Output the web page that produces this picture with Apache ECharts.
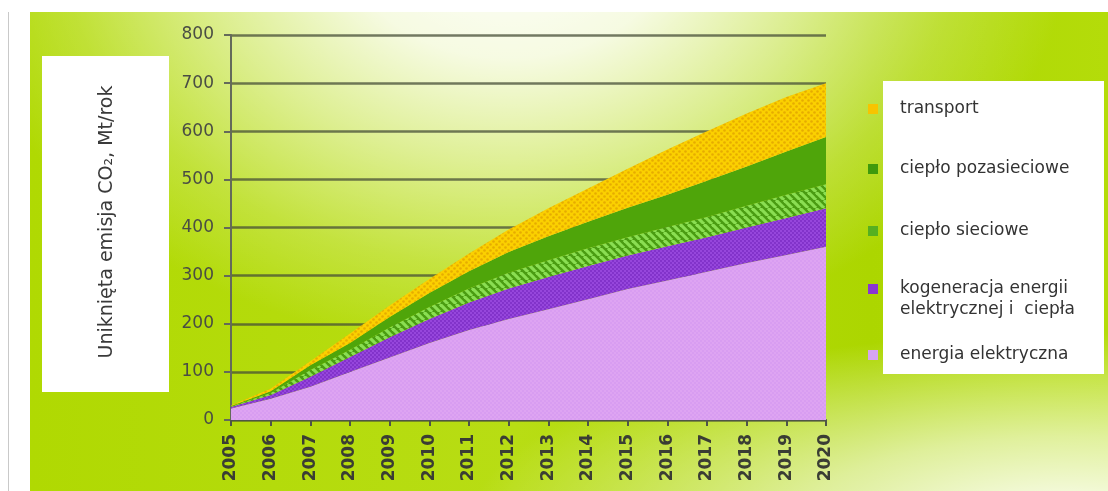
<!DOCTYPE html>
<html>
<head>
<meta charset="utf-8">
<script src="https://cdn.jsdelivr.net/npm/echarts/dist/echarts.min.js"></script>
<style>
  html, body { margin: 0; padding: 0; background: #ffffff; }
  #wrap { position: relative; width: 1108px; height: 491px; overflow: hidden; background: #ffffff; }
  #edge { position: absolute; left: 8px; top: 12px; width: 1px; height: 479px; background: #c9c9c9; }
  #panel {
    position: absolute; left: 30px; top: 12px; width: 1078px; height: 479px;
    background:
      radial-gradient(ellipse 560px 420px at 480px -80px, rgba(255,255,255,1) 0%, rgba(255,255,255,0.88) 30%, rgba(255,255,255,0.55) 55%, rgba(255,255,255,0.2) 80%, rgba(255,255,255,0) 100%),
      radial-gradient(ellipse 600px 190px at 1040px 510px, rgba(255,255,255,0.97) 0%, rgba(255,255,255,0.6) 45%, rgba(255,255,255,0) 100%),
      linear-gradient(90deg, #b0d902 0%, #b8dd14 45%, #acd600 78%, #b4dc0a 100%);
  }
  #chart { position: absolute; left: 0; top: 0; width: 1108px; height: 491px; }
</style>
</head>
<body>
<div id="wrap">
  <div id="edge"></div>
  <div id="panel"></div>
  <div id="chart"></div>
</div>
<script>
// Lata na osi X
const years = ['2005', '2006', '2007', '2008', '2009', '2010', '2011', '2012',
               '2013', '2014', '2015', '2016', '2017', '2018', '2019', '2020'];

// Uniknięta emisja CO2 w Mt/rok, wartości dla poszczególnych sektorów (warstwy sumowane)
const energiaElektryczna = [24, 44, 69, 100, 130, 160, 187, 210, 230, 251, 272, 290, 308, 326, 343, 360];
const kogeneracja        = [3, 8, 21, 31, 42, 50, 57, 63, 67, 69, 70, 71, 72, 74, 77, 80];
const cieploSieciowe     = [1, 4, 14, 15, 20, 25, 29, 33, 35, 37, 38, 40, 42, 45, 48, 50];
const cieploPozasieciowe = [1, 4, 10, 14, 22, 29, 36, 43, 50, 55, 61, 67, 75, 82, 90, 98];
const transport          = [1, 5, 8, 20, 24, 29, 37, 47, 58, 69, 81, 94, 103, 110, 113, 112];

const yTicks = { min: 0, max: 800, step: 100 };

const names = {
  ee: 'energia elektryczna',
  kog: 'kogeneracja energii elektrycznej i ciepła',
  cs: 'ciepło sieciowe',
  cp: 'ciepło pozasieciowe',
  tr: 'transport'
};

// Tekstury wypełnień warstw
function pattern(size, draw) {
  const c = document.createElement('canvas');
  c.width = size; c.height = size;
  draw(c.getContext('2d'), size);
  return { image: c, repeat: 'repeat' };
}
function dots(base, dot, size, r) {
  return pattern(size, (g, s) => {
    g.fillStyle = base; g.fillRect(0, 0, s, s);
    g.fillStyle = dot;
    const pts = [[s / 4, s / 4], [3 * s / 4, 3 * s / 4]];
    pts.forEach(p => { g.beginPath(); g.arc(p[0], p[1], r, 0, Math.PI * 2); g.fill(); });
  });
}
const fillTransport = dots('#fbd000', '#e6ac00', 6, 1.3);
const fillKog = dots('#9646dc', '#7a2ac2', 4, 0.9);
const fillEE = dots('#dea4f2', '#d194ee', 4, 0.8);
const fillCP = '#4fa50a';
const fillCS = pattern(8, (g, s) => {
  g.fillStyle = '#4a9c12'; g.fillRect(0, 0, s, s);
  g.strokeStyle = '#8ade52'; g.lineWidth = 3.2;
  for (let k = -s; k <= s; k += s) {
    g.beginPath(); g.moveTo(k, 0); g.lineTo(k + s, s); g.stroke();
  }
});

function layer(name, data, fill) {
  return {
    name: name,
    type: 'line',
    stack: 'suma',
    data: data,
    showSymbol: false,
    symbol: 'none',
    lineStyle: { width: 0 },
    areaStyle: { color: fill, opacity: 1 },
    emphasis: { disabled: true },
    silent: true
  };
}

const legendText = { fontFamily: 'DejaVu Sans', fontSize: 17, color: '#333333', lineHeight: 20, padding: [0, 0, 0, 17] };
function legendItem(name, color, centerY, extra) {
  return Object.assign({
    orient: 'vertical',
    left: 868,
    top: centerY - 10,
    padding: 0,
    itemWidth: 10,
    itemHeight: 10,
    icon: 'rect',
    selectedMode: false,
    data: [{ name: name, itemStyle: { color: color } }],
    textStyle: legendText
  }, extra || {});
}

const chart = echarts.init(document.getElementById('chart'), null, { renderer: 'canvas' });
chart.setOption({
  backgroundColor: 'transparent',
  animation: false,
  grid: { left: 231, right: 282, top: 35, bottom: 71, outerBoundsMode: 'none' },
  xAxis: {
    type: 'category',
    data: years,
    boundaryGap: false,
    axisLine: { lineStyle: { color: '#4f5548', width: 2 } },
    axisTick: { show: true, length: 6, alignWithLabel: true, lineStyle: { color: '#4f5548', width: 2 } },
    axisLabel: {
      rotate: 90, margin: 14, interval: 0,
      fontFamily: 'DejaVu Sans', fontWeight: 'bold', fontSize: 17, color: '#3a3d34'
    },
    splitLine: { show: false }
  },
  yAxis: {
    type: 'value',
    min: yTicks.min, max: yTicks.max, interval: yTicks.step,
    axisLine: { show: true, lineStyle: { color: '#646a5a', width: 2 } },
    axisTick: { show: true, length: 7, lineStyle: { color: '#646a5a', width: 2 } },
    axisLabel: { margin: 17, fontFamily: 'DejaVu Sans', fontSize: 17, color: '#4a4d44' },
    splitLine: { show: true, lineStyle: { color: 'rgba(70,78,55,0.75)', width: 2.5 } }
  },
  legend: [
    legendItem(names.tr, '#f7c400', 109),
    legendItem(names.cp, '#3f9a0c', 169),
    legendItem(names.cs, '#56b020', 231),
    legendItem(names.kog, '#8a36d2', 289, { formatter: () => 'kogeneracja energii' }),
    legendItem(names.ee, '#d6a4f0', 355)
  ],
  graphic: [
    { type: 'rect', z: 0, shape: { x: 42, y: 56, width: 127, height: 336 }, style: { fill: '#ffffff' } },
    {
      type: 'text', z: 1, x: 107, y: 222, rotation: Math.PI / 2,
      style: {
        text: 'Uniknięta emisja CO₂, Mt/rok',
        fontFamily: 'DejaVu Sans', fontSize: 19, fill: '#3a3a3a',
        align: 'center', verticalAlign: 'middle'
      }
    },
    { type: 'rect', z: 0, shape: { x: 883, y: 81, width: 221, height: 293 }, style: { fill: '#ffffff' } },
    {
      type: 'text', z: 3, x: 900, y: 310,
      style: {
        text: 'elektrycznej i  ciepła',
        fontFamily: 'DejaVu Sans', fontSize: 17, fill: '#333333',
        align: 'left', verticalAlign: 'middle'
      }
    }
  ],
  series: [
    layer(names.ee, energiaElektryczna, fillEE),
    layer(names.kog, kogeneracja, fillKog),
    layer(names.cs, cieploSieciowe, fillCS),
    layer(names.cp, cieploPozasieciowe, fillCP),
    layer(names.tr, transport, fillTransport)
  ]
});
</script>
</body>
</html>
